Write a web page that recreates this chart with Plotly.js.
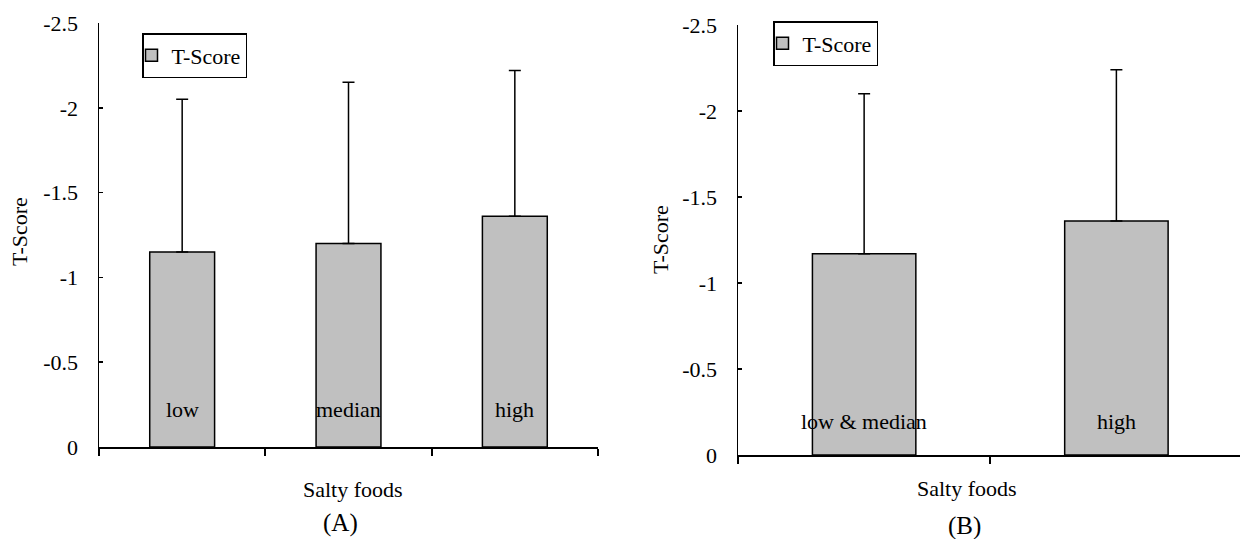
<!DOCTYPE html>
<html>
<head>
<meta charset="utf-8">
<script src="https://cdn.plot.ly/plotly-3.0.1.min.js"></script>
<style>html,body{margin:0;padding:0;background:#fff;}#chart{width:1240px;height:539px;}</style>
</head>
<body>
<div id="chart"></div>
<script>
// ---- data ----
const catsA = ["low", "median", "high"];
const valsA = [-1.15, -1.20, -1.36];
const errA  = [0.90, 0.95, 0.86];

const catsB = ["low & median", "high"];
const valsB = [-1.17, -1.36];
const errB  = [0.93, 0.88];

const seriesName = "T-Score";
const yTickVals = [0, -0.5, -1, -1.5, -2, -2.5];
const yTickText = ["0", "-0.5", "-1", "-1.5", "-2", "-2.5"];
const xTitle = "Salty foods";
const yTitle = "T-Score";
const panelLabels = ["(A)", "(B)"];

// ---- style ----
const FONT = "'Liberation Serif', 'Times New Roman', serif";
const FS = 22;
const W = 1240, H = 539;
const px = v => v / W;
const py = v => (H - v) / H;

function barTrace(cats, vals, errs, xa, ya, lg, w) {
  return {
    type: "bar", x: cats, y: vals, xaxis: xa, yaxis: ya, name: seriesName,
    legend: lg, width: w,
    marker: { color: "#c0c0c0", line: { color: "#000", width: 1.5 } },
    error_y: { type: "data", symmetric: false, array: errs.map(() => 0), arrayminus: errs,
               color: "#000", thickness: 1.5, width: 6 },
    hoverinfo: "x+y"
  };
}

const data = [
  barTrace(catsA, valsA, errA, "x", "y", "legend", 0.39),
  barTrace(catsB, valsB, errB, "x2", "y2", "legend2", 0.41)
];

const yaxisBase = {
  range: [0, -2.5], tickvals: yTickVals, ticktext: yTickText,
  ticks: "inside", ticklen: 4, tickwidth: 1.5, tickcolor: "#000",
  showline: true, linecolor: "#000", linewidth: 1.5,
  showgrid: false, zeroline: false, ticklabelstandoff: 15,
  tickfont: { family: FONT, size: FS, color: "#000" }, fixedrange: true
};
const xaxisBase = {
  type: "category", tickson: "boundaries", ticks: "outside", ticklen: 7, tickwidth: 2,
  tickcolor: "#000", showticklabels: false, showline: true, linecolor: "#000", linewidth: 2,
  showgrid: false, zeroline: false, fixedrange: true
};

const legendBase = {
  bgcolor: "#fff", bordercolor: "#000", borderwidth: 1.5,
  font: { family: FONT, size: FS, color: "#000" },
  xanchor: "left", yanchor: "top", itemclick: false, itemdoubleclick: false,
  indentation: -12
};

const annotations = [];
// bar labels inside bars near the base
catsA.forEach(c => annotations.push({ xref: "x", yref: "y", x: c, y: 0, text: c, showarrow: false,
  yanchor: "bottom", yshift: 23, font: { family: FONT, size: FS, color: "#000" } }));
catsB.forEach(c => annotations.push({ xref: "x2", yref: "y2", x: c, y: 0, text: c, showarrow: false,
  yanchor: "bottom", yshift: 19, font: { family: FONT, size: FS, color: "#000" } }));
// axis titles
annotations.push({ xref: "paper", yref: "paper", x: px(353), y: py(489), text: xTitle, showarrow: false,
  xanchor: "center", yanchor: "middle", font: { family: FONT, size: FS, color: "#000" } });
annotations.push({ xref: "paper", yref: "paper", x: px(967), y: py(488), text: xTitle, showarrow: false,
  xanchor: "center", yanchor: "middle", font: { family: FONT, size: FS, color: "#000" } });
annotations.push({ xref: "paper", yref: "paper", x: px(20), y: py(232), text: yTitle, showarrow: false,
  textangle: -90, xanchor: "center", yanchor: "middle", font: { family: FONT, size: FS, color: "#000" } });
annotations.push({ xref: "paper", yref: "paper", x: px(660), y: py(240), text: yTitle, showarrow: false,
  textangle: -90, xanchor: "center", yanchor: "middle", font: { family: FONT, size: FS, color: "#000" } });
// panel labels
annotations.push({ xref: "paper", yref: "paper", x: px(340), y: py(523), text: panelLabels[0], showarrow: false,
  xanchor: "center", yanchor: "middle", font: { family: FONT, size: 25, color: "#000" } });
annotations.push({ xref: "paper", yref: "paper", x: px(964), y: py(526), text: panelLabels[1], showarrow: false,
  xanchor: "center", yanchor: "middle", font: { family: FONT, size: 25, color: "#000" } });

const layout = {
  width: W, height: H, margin: { l: 0, r: 0, t: 0, b: 0 },
  paper_bgcolor: "#fff", plot_bgcolor: "#fff", showlegend: true,
  xaxis:  Object.assign({}, xaxisBase, { domain: [px(99), px(598)], anchor: "y", range: [-0.5, 2.5] }),
  yaxis:  Object.assign({}, yaxisBase, { domain: [py(447), py(23)], anchor: "x" }),
  xaxis2: Object.assign({}, xaxisBase, { domain: [px(738), 1], anchor: "y2", range: [-0.5, 1.49] }),
  yaxis2: Object.assign({}, yaxisBase, { domain: [py(455), py(25)], anchor: "x2" }),
  legend:  Object.assign({}, legendBase, { x: px(142), y: py(33) }),
  legend2: Object.assign({}, legendBase, { x: px(773), y: py(21) }),
  annotations: annotations
};

Plotly.newPlot("chart", data, layout, { staticPlot: true, displayModeBar: false });
</script>
</body>
</html>
